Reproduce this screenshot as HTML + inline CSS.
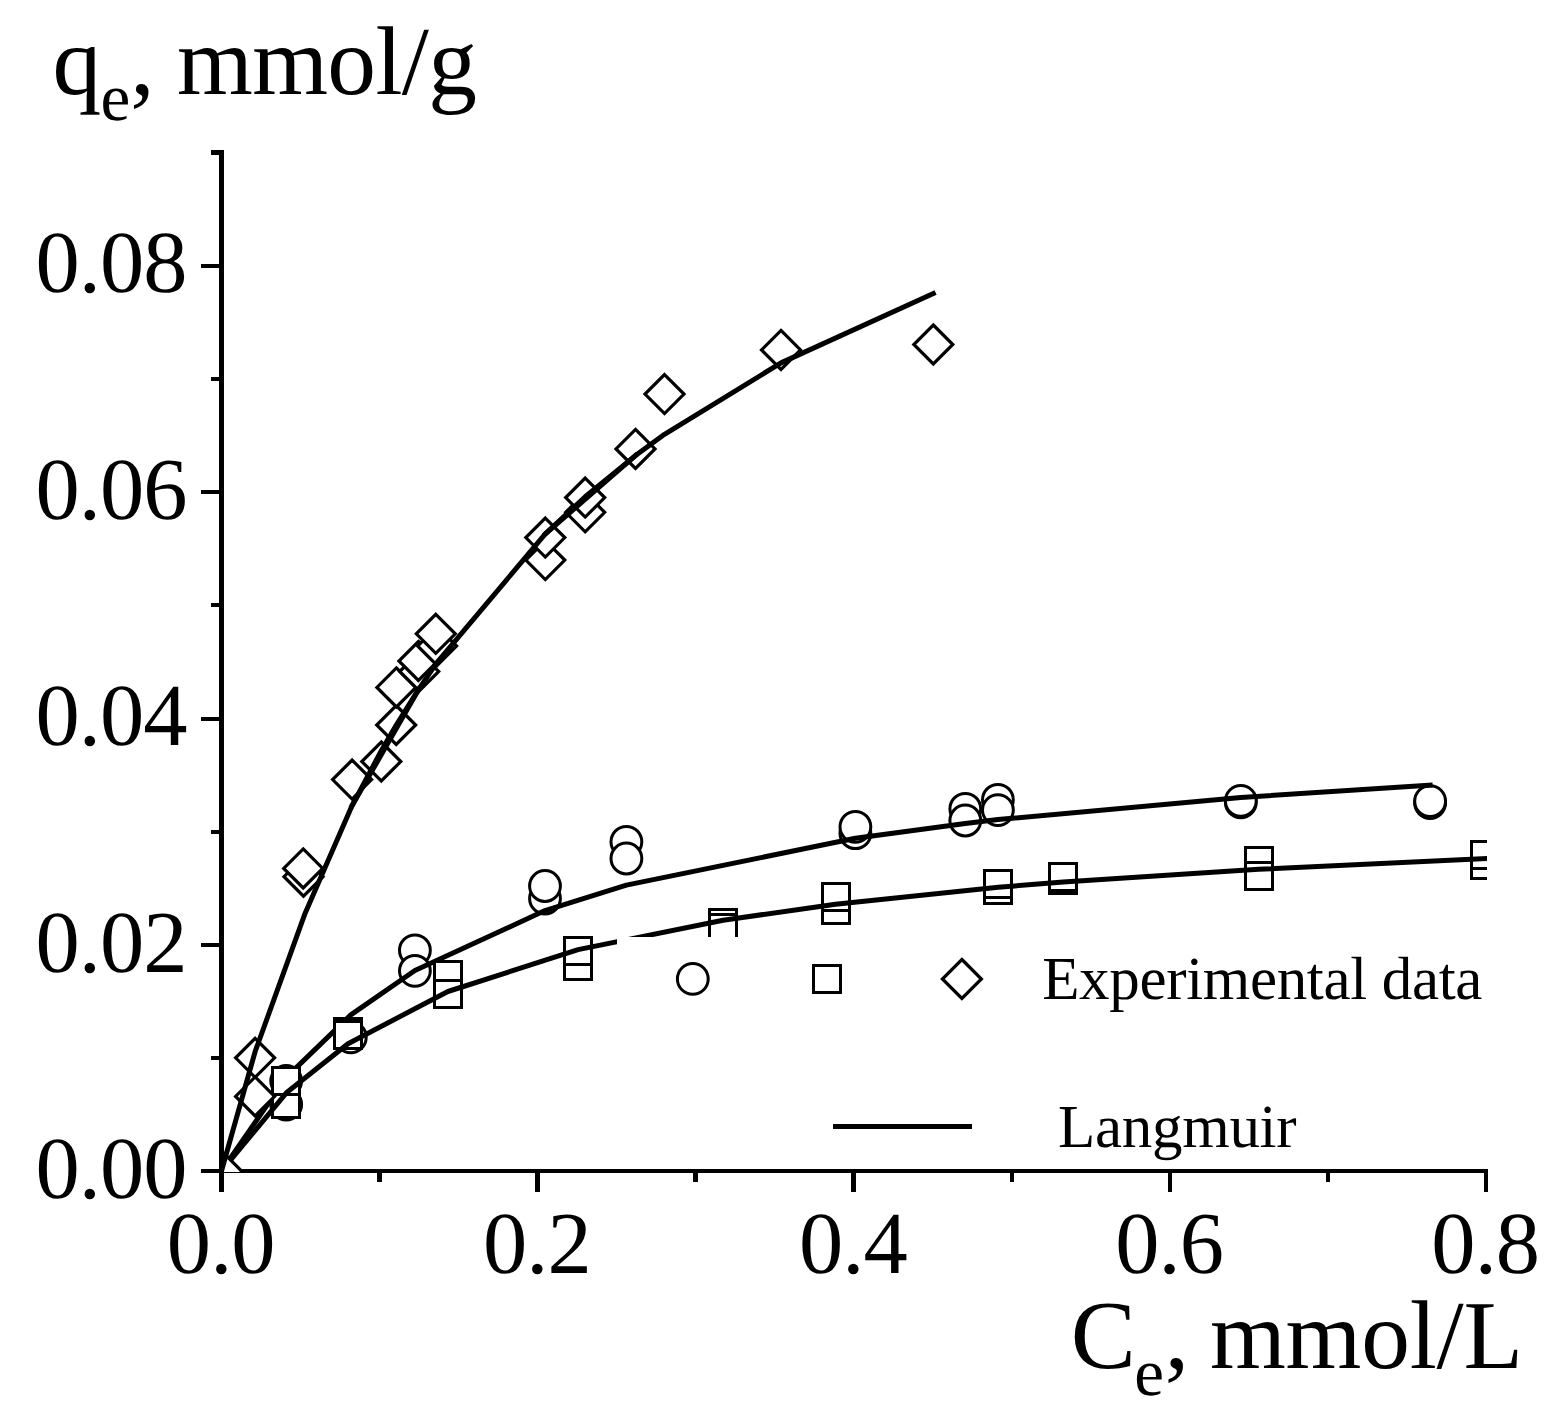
<!DOCTYPE html>
<html lang="en"><head><meta charset="utf-8"><title>Langmuir isotherm</title>
<style>html,body{margin:0;padding:0;background:#fff}body{width:1557px;height:1417px;overflow:hidden}svg{display:block}
text{font-family:"Liberation Serif","Times New Roman",Times,serif;fill:#000;white-space:pre;text-rendering:geometricPrecision}
.tick{font-size:88.5px;letter-spacing:-0.9px}.ttl{font-size:97.5px}.sub{font-size:67px}.leg{font-size:61px}
.ax{fill:#000;stroke:none}
.cv{stroke:#000;stroke-width:5.0;fill:none;stroke-linejoin:round;stroke-linecap:square}
.mk{stroke:#000;stroke-width:3.0;fill:#fff;stroke-linejoin:miter}
.dk{stroke-width:3.2}
</style></head><body>
<svg width="1557" height="1417" viewBox="0 0 1557 1417">
<defs><clipPath id="plot"><rect x="221" y="100" width="1266" height="1072"/></clipPath></defs>
<rect width="1557" height="1417" fill="#fff"/>
<g class="ax" shape-rendering="crispEdges">
<rect x="201" y="1169" width="1287" height="4"/>
<rect x="377" y="1169" width="5" height="13"/>
<rect x="535" y="1169" width="5" height="23"/>
<rect x="693" y="1169" width="5" height="13"/>
<rect x="851" y="1169" width="5" height="23"/>
<rect x="1010" y="1169" width="4" height="13"/>
<rect x="1168" y="1169" width="4" height="23"/>
<rect x="1326" y="1169" width="4" height="13"/>
<rect x="1484" y="1169" width="4" height="23"/>
</g>
<g clip-path="url(#plot)">
<circle class="mk" cx="286.2" cy="1081" r="15.4"/>
<circle class="mk" cx="286.2" cy="1104.5" r="15.4"/>
<circle class="mk" cx="350.8" cy="1037.3" r="15.4"/>
<circle class="mk" cx="414.9" cy="950.3" r="15.4"/>
<circle class="mk" cx="414.9" cy="970.8" r="15.4"/>
<circle class="mk" cx="545" cy="898.5" r="15.4"/>
<circle class="mk" cx="545" cy="886" r="15.4"/>
<circle class="mk" cx="626.4" cy="841.8" r="15.4"/>
<circle class="mk" cx="626.4" cy="858.5" r="15.4"/>
<circle class="mk" cx="855.4" cy="833.2" r="15.4"/>
<circle class="mk" cx="855.4" cy="826.8" r="15.4"/>
<circle class="mk" cx="965.3" cy="808.8" r="15.4"/>
<circle class="mk" cx="965.3" cy="820.5" r="15.4"/>
<circle class="mk" cx="997.9" cy="799.8" r="15.4"/>
<circle class="mk" cx="997.9" cy="810.1" r="15.4"/>
<circle class="mk" cx="1240.8" cy="802.3" r="15.4"/>
<circle class="mk" cx="1240.8" cy="800.9" r="15.4"/>
<circle class="mk" cx="1430.1" cy="803.1" r="15.4"/>
<circle class="mk" cx="1430.1" cy="801.2" r="15.4"/>
<polyline class="cv" points="221.5,1171 286.2,1077.4 350.8,1014.9 414.9,970.5 545,910.6 626.4,885.1 855.4,838.3 965.3,823.4 997.9,819.6 1240.8,797.4 1430.1,785.2"/>
<rect class="mk" x="272.5" y="1090.5" width="27" height="27"/>
<rect class="mk" x="272.5" y="1067.5" width="27" height="27"/>
<rect class="mk" x="334.5" y="1018.5" width="27" height="27"/>
<rect class="mk" x="334.5" y="1021.5" width="27" height="27"/>
<rect class="mk" x="434.5" y="961.5" width="27" height="27"/>
<rect class="mk" x="434.5" y="980.5" width="27" height="27"/>
<rect class="mk" x="564.5" y="952.5" width="27" height="27"/>
<rect class="mk" x="564.5" y="937.5" width="27" height="27"/>
<rect class="mk" x="709.5" y="909.5" width="27" height="27"/>
<rect class="mk" x="709.5" y="914.5" width="27" height="27"/>
<rect class="mk" x="822.5" y="896.5" width="27" height="27"/>
<rect class="mk" x="822.5" y="883.5" width="27" height="27"/>
<rect class="mk" x="984.5" y="876.5" width="27" height="27"/>
<rect class="mk" x="984.5" y="870.5" width="27" height="27"/>
<rect class="mk" x="1049.5" y="866.5" width="27" height="27"/>
<rect class="mk" x="1049.5" y="863.5" width="27" height="27"/>
<rect class="mk" x="1245.5" y="847.5" width="27" height="27"/>
<rect class="mk" x="1245.5" y="862.5" width="27" height="27"/>
<rect class="mk" x="1471.5" y="851.5" width="27" height="27"/>
<rect class="mk" x="1471.5" y="841.5" width="27" height="27"/>
<polyline class="cv" points="221.5,1171 286.4,1092.8 348,1043.7 447.9,991.5 578.1,949.6 723.1,920.2 835.5,904.2 998.2,887.3 1063.2,882 1258.5,869.3 1486,858.6"/>
<path class="mk dk" d="M222.6 1152.1L242.1 1171.6L222.6 1191.1L203.1 1171.6Z"/>
<path class="mk dk" d="M255.1 1038.3L274.6 1057.8L255.1 1077.3L235.6 1057.8Z"/>
<path class="mk dk" d="M255.1 1076.9L274.6 1096.4L255.1 1115.9L235.6 1096.4Z"/>
<path class="mk dk" d="M303.5 857.2L323 876.7L303.5 896.2L284 876.7Z"/>
<path class="mk dk" d="M303.2 848.9L322.7 868.4L303.2 887.9L283.7 868.4Z"/>
<path class="mk dk" d="M352.1 760.1L371.6 779.6L352.1 799.1L332.6 779.6Z"/>
<path class="mk dk" d="M381.3 742L400.8 761.5L381.3 781L361.8 761.5Z"/>
<path class="mk dk" d="M396.2 705.5L415.7 725L396.2 744.5L376.7 725Z"/>
<path class="mk dk" d="M396.4 667.9L415.9 687.4L396.4 706.9L376.9 687.4Z"/>
<path class="mk dk" d="M419.2 652L438.7 671.5L419.2 691L399.7 671.5Z"/>
<path class="mk dk" d="M418.4 641.5L437.9 661L418.4 680.5L398.9 661Z"/>
<path class="mk dk" d="M437.1 626.5L456.6 646L437.1 665.5L417.6 646Z"/>
<path class="mk dk" d="M435.8 614.3L455.3 633.8L435.8 653.3L416.3 633.8Z"/>
<path class="mk dk" d="M545.3 540.6L564.8 560.1L545.3 579.6L525.8 560.1Z"/>
<path class="mk dk" d="M545.3 518.1L564.8 537.6L545.3 557.1L525.8 537.6Z"/>
<path class="mk dk" d="M585.2 492.8L604.7 512.3L585.2 531.8L565.7 512.3Z"/>
<path class="mk dk" d="M585.2 478.1L604.7 497.6L585.2 517.1L565.7 497.6Z"/>
<path class="mk dk" d="M635.5 429.4L655 448.9L635.5 468.4L616 448.9Z"/>
<path class="mk dk" d="M664.5 374.6L684 394.1L664.5 413.6L645 394.1Z"/>
<path class="mk dk" d="M781 330.4L800.5 349.9L781 369.4L761.5 349.9Z"/>
<path class="mk dk" d="M933.3 325L952.8 344.5L933.3 364L913.8 344.5Z"/>
<polyline class="cv" points="221.5,1171 255.1,1051.7 304.6,914.6 352.1,805.6 381.3,750.7 396.3,725 418.8,689.2 436.5,663.1 545.3,533.9 585.2,496.8 635.5,455.6 664.5,434.3 781,362.9 933.3,293.6"/>
<polyline class="cv" points="352.1,805.6 418.8,689.2"/>
<polyline class="cv" points="545.3,533.9 635.5,455.6"/>
</g>
<rect x="617" y="937" width="880" height="226" fill="#fff"/>
<g>
<circle class="mk" cx="692.8" cy="978.9" r="15.4"/>
<rect class="mk" x="813.5" y="965.5" width="27" height="27"/>
<path class="mk dk" d="M961.9 959.5L981.4 979L961.9 998.5L942.4 979Z"/>
<rect class="ax" x="833" y="1124" width="139" height="5"/>
</g>
<text class="leg" x="1042.2" y="998.8" style="letter-spacing:-0.33px">Experimental data</text>
<text class="leg" x="1058.0" y="1146.8" style="letter-spacing:-0.28px">Langmuir</text>
<g class="ax" shape-rendering="crispEdges">
<rect x="219" y="150" width="5" height="1042"/>
<rect x="201" y="1169" width="19" height="4"/>
<rect x="211" y="1056" width="9" height="4"/>
<rect x="201" y="943" width="19" height="4"/>
<rect x="211" y="830" width="9" height="4"/>
<rect x="201" y="717" width="19" height="4"/>
<rect x="211" y="603" width="9" height="4"/>
<rect x="201" y="490" width="19" height="4"/>
<rect x="211" y="377" width="9" height="4"/>
<rect x="201" y="264" width="19" height="4"/>
<rect x="211" y="150" width="9" height="5"/>
</g>
<text class="tick" x="35.4" y="1198.3">0.00</text>
<text class="tick" x="35.4" y="971.8">0.02</text>
<text class="tick" x="35.4" y="745.3">0.04</text>
<text class="tick" x="35.4" y="518.9">0.06</text>
<text class="tick" x="35.4" y="292.4">0.08</text>
<text class="tick" x="166.8" y="1272.8">0.0</text>
<text class="tick" x="482.9" y="1272.8">0.2</text>
<text class="tick" x="799" y="1272.8">0.4</text>
<text class="tick" x="1115.2" y="1272.8">0.6</text>
<text class="tick" x="1431.3" y="1272.8">0.8</text>
<text class="ttl"><tspan x="52.4" y="93.5">q</tspan><tspan class="sub" x="100.6" y="120.3">e</tspan><tspan x="130.2" y="93.5">, </tspan><tspan x="177.0" y="93.5" style="letter-spacing:-0.68px">mmol/g</tspan></text>
<text class="ttl"><tspan x="1070.7" y="1367.7">C</tspan><tspan class="sub" x="1134.3" y="1394.5">e</tspan><tspan x="1164.8" y="1367.7">, </tspan><tspan x="1210.0" y="1367.7" style="letter-spacing:-0.23px">mmol/L</tspan></text>
</svg></body></html>
